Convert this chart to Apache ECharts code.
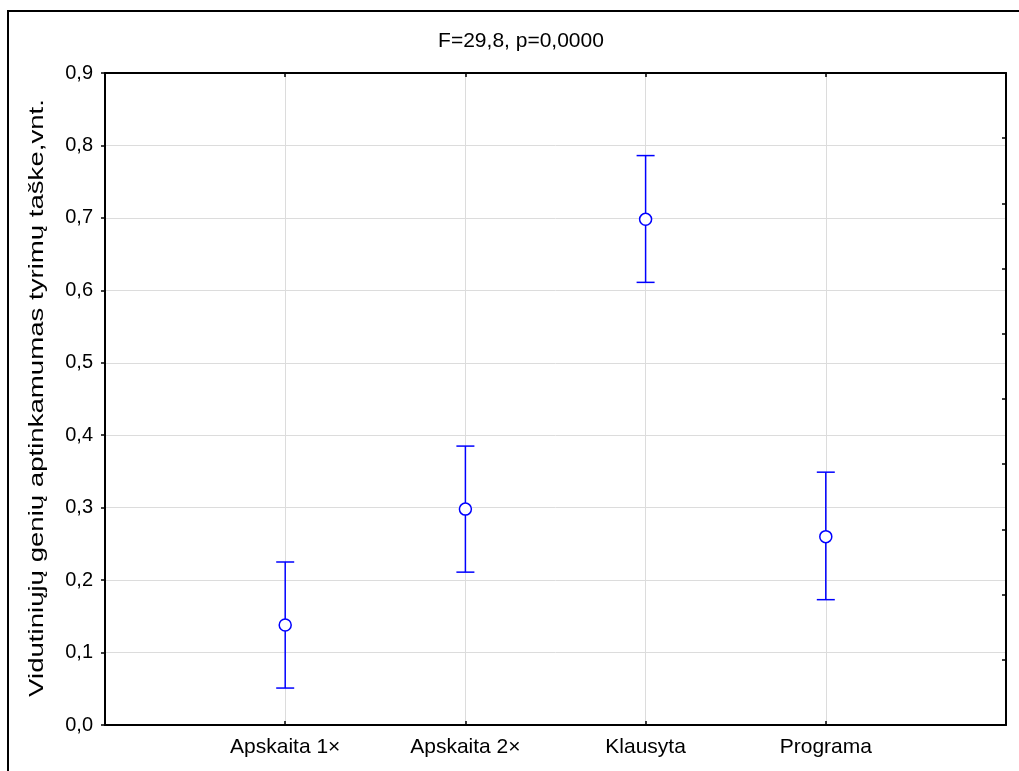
<!DOCTYPE html>
<html>
<head>
<meta charset="utf-8">
<script src="https://cdn.jsdelivr.net/npm/echarts@6/dist/echarts.min.js"></script>
<style>
html,body{margin:0;padding:0;background:#fff;}
#chart{width:1019px;height:771px;}
</style>
</head>
<body>
<div id="chart"></div>
<script>
var categories = ['Apskaita 1×', 'Apskaita 2×', 'Klausyta', 'Programa'];
var means = [0.138, 0.298, 0.698, 0.260];
var lowers = [0.051, 0.211, 0.611, 0.173];
var uppers = [0.225, 0.385, 0.786, 0.349];
var yTicks = [0, 0.1, 0.2, 0.3, 0.4, 0.5, 0.6, 0.7, 0.8, 0.9];
var titleText = 'F=29,8, p=0,0000';
var yName = 'Vidutiniųjų genių aptinkamumas tyrimų taške,vnt.';

var font = 'Liberation Sans, Arial, sans-serif';
var fs = 20;
var chart = echarts.init(document.getElementById('chart'), null, {renderer: 'canvas'});

var meanData = means.map(function (m, i) { return [i + 1, m]; });
var barData = means.map(function (m, i) { return [i + 1, lowers[i], uppers[i]]; });

var option = {
  backgroundColor: '#fff',
  animation: false,
  title: {
    text: titleText,
    left: 516,
    top: 26,
    textAlign: 'center',
    textStyle: {fontFamily: font, fontSize: 21, fontWeight: 'normal', color: '#000'}
  },
  graphic: [{
    type: 'rect',
    shape: {x: 8, y: 11, width: 1030, height: 790},
    style: {fill: 'none', stroke: '#000', lineWidth: 2},
    silent: true
  }, {
    type: 'text',
    x: 37, y: 398,
    rotation: Math.PI / 2,
    scaleX: 1.38,
    style: {
      text: yName, fill: '#000',
      font: fs + 'px ' + font,
      textAlign: 'center', textVerticalAlign: 'middle'
    },
    silent: true
  }],
  grid: {left: 105, right: 13, top: 73, bottom: 46},
  xAxis: [{
    type: 'value', min: 0, max: categories.length + 1, interval: 1,
    axisLine: {show: true, onZero: false, lineStyle: {color: '#000', width: 2}},
    axisTick: {show: true, inside: true, length: 4, lineStyle: {color: '#000', width: 1.5}},
    splitLine: {show: true, lineStyle: {color: '#dcdcdc', width: 1}},
    axisLabel: {
      margin: 12, color: '#000', fontFamily: font, fontSize: 21,
      formatter: function (v) { return categories[v - 1] || ''; }
    }
  }, {
    type: 'value', position: 'top', min: 0, max: categories.length + 1, interval: 1,
    axisLine: {show: true, onZero: false, lineStyle: {color: '#000', width: 2}},
    axisTick: {show: true, inside: true, length: 4, lineStyle: {color: '#000', width: 1.5}},
    splitLine: {show: false},
    axisLabel: {show: false}
  }],
  yAxis: [{
    type: 'value', min: 0, max: 0.9, interval: 0.1,
    axisLine: {show: true, onZero: false, lineStyle: {color: '#000', width: 2}},
    axisTick: {show: true, inside: false, length: 4, lineStyle: {color: '#000', width: 1.5}},
    splitLine: {show: true, lineStyle: {color: '#dcdcdc', width: 1}},
    axisLabel: {
      margin: 12, color: '#000', fontFamily: font, fontSize: fs,
      formatter: function (v) { return v.toFixed(1).replace('.', ','); }
    }
  }, {
    type: 'value', position: 'right', min: 0, max: 10, interval: 1,
    axisLine: {show: true, onZero: false, lineStyle: {color: '#000', width: 2}},
    axisTick: {show: true, inside: true, length: 4, lineStyle: {color: '#000', width: 1.5}},
    splitLine: {show: false},
    axisLabel: {show: false}
  }],
  series: [{
    type: 'custom',
    xAxisIndex: 0, yAxisIndex: 0,
    data: barData,
    renderItem: function (params, api) {
      var x = api.value(0);
      var lo = api.coord([x, api.value(1)]);
      var hi = api.coord([x, api.value(2)]);
      var hw = 9;
      var st = {stroke: '#0000ff', lineWidth: 1.5, fill: 'none'};
      return {
        type: 'group',
        children: [
          {type: 'line', shape: {x1: lo[0], y1: lo[1], x2: hi[0], y2: hi[1]}, style: st},
          {type: 'line', shape: {x1: lo[0] - hw, y1: lo[1], x2: lo[0] + hw, y2: lo[1]}, style: st},
          {type: 'line', shape: {x1: hi[0] - hw, y1: hi[1], x2: hi[0] + hw, y2: hi[1]}, style: st}
        ]
      };
    },
    z: 2
  }, {
    type: 'scatter',
    xAxisIndex: 0, yAxisIndex: 0,
    data: meanData,
    symbol: 'circle',
    symbolSize: 12,
    itemStyle: {color: '#fff', borderColor: '#0000ff', borderWidth: 1.5, opacity: 1},
    z: 3
  }]
};
chart.setOption(option);
</script>
</body>
</html>
